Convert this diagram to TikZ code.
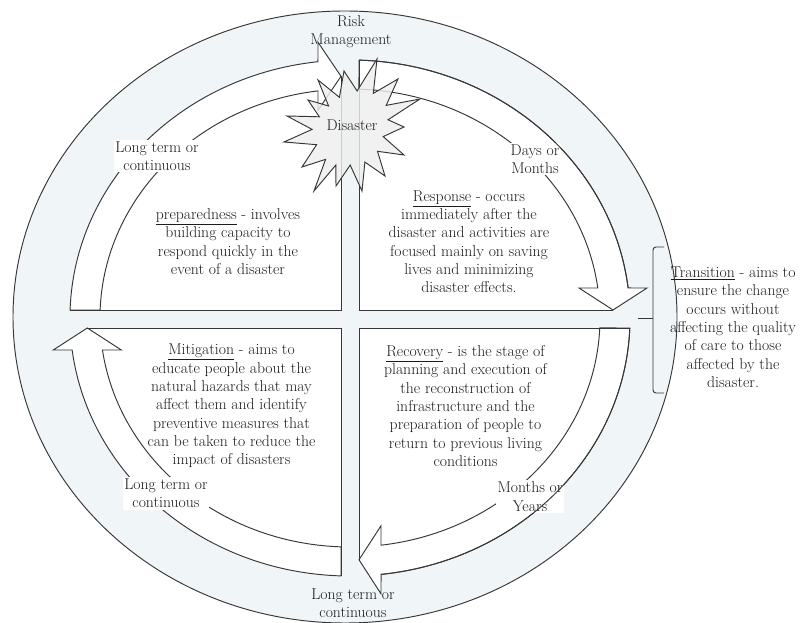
\documentclass[tikz,border=0pt]{standalone}
\usepackage{fontspec}
\definecolor{ln}{RGB}{55,55,55}
\definecolor{bg}{RGB}{240,245,248}
\definecolor{tx}{RGB}{28,28,28}
\definecolor{starfill}{RGB}{238,238,238}
\tikzset{
 line/.style={draw=ln, line width=0.95pt, line join=miter},
 band/.style={line, fill=white},
 txt/.style={text=tx, align=center, inner sep=0pt, font=\fontsize{15.7}{18.3}\selectfont},
 lbl/.style={txt, fill=white, inner sep=1.5pt},
 quad/.style={fill=white},
}
\begin{document}
\begin{tikzpicture}[x=1pt,y=1pt]
\useasboundingbox (0,0) rectangle (803,623);
% outer ellipse
\draw[line, fill=bg] (345,306) ellipse[x radius=332pt, y radius=306pt];
% quadrant interiors
\fill[quad] (100.15,313) -- (341,313) -- (341,546.7) -- (318,532.1)
  arc[start angle=97.35, end angle=178, x radius=250pt, y radius=229pt] -- cycle;
\fill[quad] (359,313) -- (359,533.85)
  arc[start angle=87.94, end angle=7.53, x radius=250pt, y radius=229pt] -- (613,313) -- cycle;
\fill[quad] (359,295) -- (599.8,295)
  arc[start angle=-2.5, end angle=-82.88, x radius=250pt, y radius=229pt] -- (359,63.2) -- cycle;
\fill[quad] (341,295) -- (341,76.1)
  arc[start angle=267.94, end angle=188.03, x radius=250pt, y radius=229pt] -- (87.3,295) -- cycle;
% arrow bands
\path[band] (70.1,313) arc[start angle=178.22, end angle=96.56, x radius=280pt, y radius=258pt]
  -- (318,580.7) -- (341,546.7) -- (318,512.7) -- (318,532.1)
  arc[start angle=97.35, end angle=178, x radius=250pt, y radius=229pt] -- cycle;
\path[band] (359,562.87) arc[start angle=88.16, end angle=6.68, x radius=280pt, y radius=258pt]
  -- (647,335) -- (613,313) -- (579,335) -- (597.8,335)
  arc[start angle=7.53, end angle=87.94, x radius=250pt, y radius=229pt] -- cycle;
\path[band] (629.8,295) arc[start angle=-2.22, end angle=-83.64, x radius=280pt, y radius=258pt]
  -- (381,29.2) -- (359,63.2) -- (381,97.2) -- (381,77.8)
  arc[start angle=-82.88, end angle=-2.5, x radius=250pt, y radius=229pt] -- cycle;
\path[band] (341,47.1) arc[start angle=268.16, end angle=187.12, x radius=280pt, y radius=258pt]
  -- (53.3,273) -- (87.3,295) -- (121.3,273) -- (102.45,273)
  arc[start angle=188.03, end angle=267.94, x radius=250pt, y radius=229pt] -- cycle;
% cross lines
\draw[line] (70.1,313) -- (341,313) -- (341,546.7);
\draw[line] (613,313) -- (359,313) -- (359,562.87);
\draw[line] (629.8,295) -- (359,295) -- (359,63.2);
\draw[line] (87.3,295) -- (341,295) -- (341,47.1);
% bracket
\draw[line, rounded corners=3pt] (664,376) -- (653,376) -- (653,230) -- (664,230);
\draw[line] (653,304.7) -- (638,304.7);
% star
\draw[line, fill=starfill, fill opacity=0.82]
 (344,552) -- (357.1,532) -- (377,564) -- (373.3,529.6) -- (398,544) -- (386.2,517.6)
 -- (420,524) -- (388,503.2) -- (404,496) -- (383.2,486.4) -- (404,468) -- (377.5,471.7)
 -- (385,447) -- (364.9,460.9) -- (362,432) -- (350.2,457.9) -- (336,437) -- (335.8,457.9)
 -- (314,432) -- (325.6,463.6) -- (302,456) -- (316.6,478.3) -- (284,481) -- (312.1,493.6)
 -- (287,507) -- (319.3,506.2) -- (308,523) -- (328.6,517) -- (318,543) -- (339.4,525.7) -- cycle;
% time labels
\node[lbl] (ltc1) at (157,467) {Long term or\\continuous};
\node[lbl] (dm) at (535,464) {Days or\\Months};
\node[lbl] (ltc2) at (166,129.5) {Long term or\\continuous};
\node[lbl] (my) at (530,126.4) {Months or\\Years};
% outer arcs over labels
\draw[line] (359,562.87) arc[start angle=88.16, end angle=6.68, x radius=280pt, y radius=258pt];
\draw[line] (629.8,295) arc[start angle=-2.22, end angle=-83.64, x radius=280pt, y radius=258pt];
% texts
\node[txt] (risk) at (351,591) {Risk\\Management};
\node[txt] (dis) at (352,498) {Disaster};
\node[txt] (ltc3) at (353,20) {Long term or\\continuous};
\node[txt] (prep) at (228,381.3) {\underline{preparedness} - involves\\building capacity to\\respond quickly in the\\event of a disaster};
\node[txt] (resp) at (469,381.2) {\underline{Response} - occurs\\immediately after the\\disaster and activities are\\focused mainly on saving\\lives and minimizing\\disaster effects.};
\node[txt] (trans) at (733,295.8) {\underline{Transition} - aims to\\ensure the change\\occurs without\\affecting the quality\\of care to those\\affected by the\\disaster.};
\node[txt] (miti) at (231.5,217) {\underline{Mitigation} - aims to\\educate people about the\\natural hazards that may\\affect them and identify\\preventive measures that\\can be taken to reduce the\\impact of disasters};
\node[txt] (reco) at (465.5,217) {\underline{Recovery} - is the stage of\\planning and execution of\\the reconstruction of\\infrastructure and the\\preparation of people to\\return to previous living\\conditions};
\end{tikzpicture}
\end{document}
